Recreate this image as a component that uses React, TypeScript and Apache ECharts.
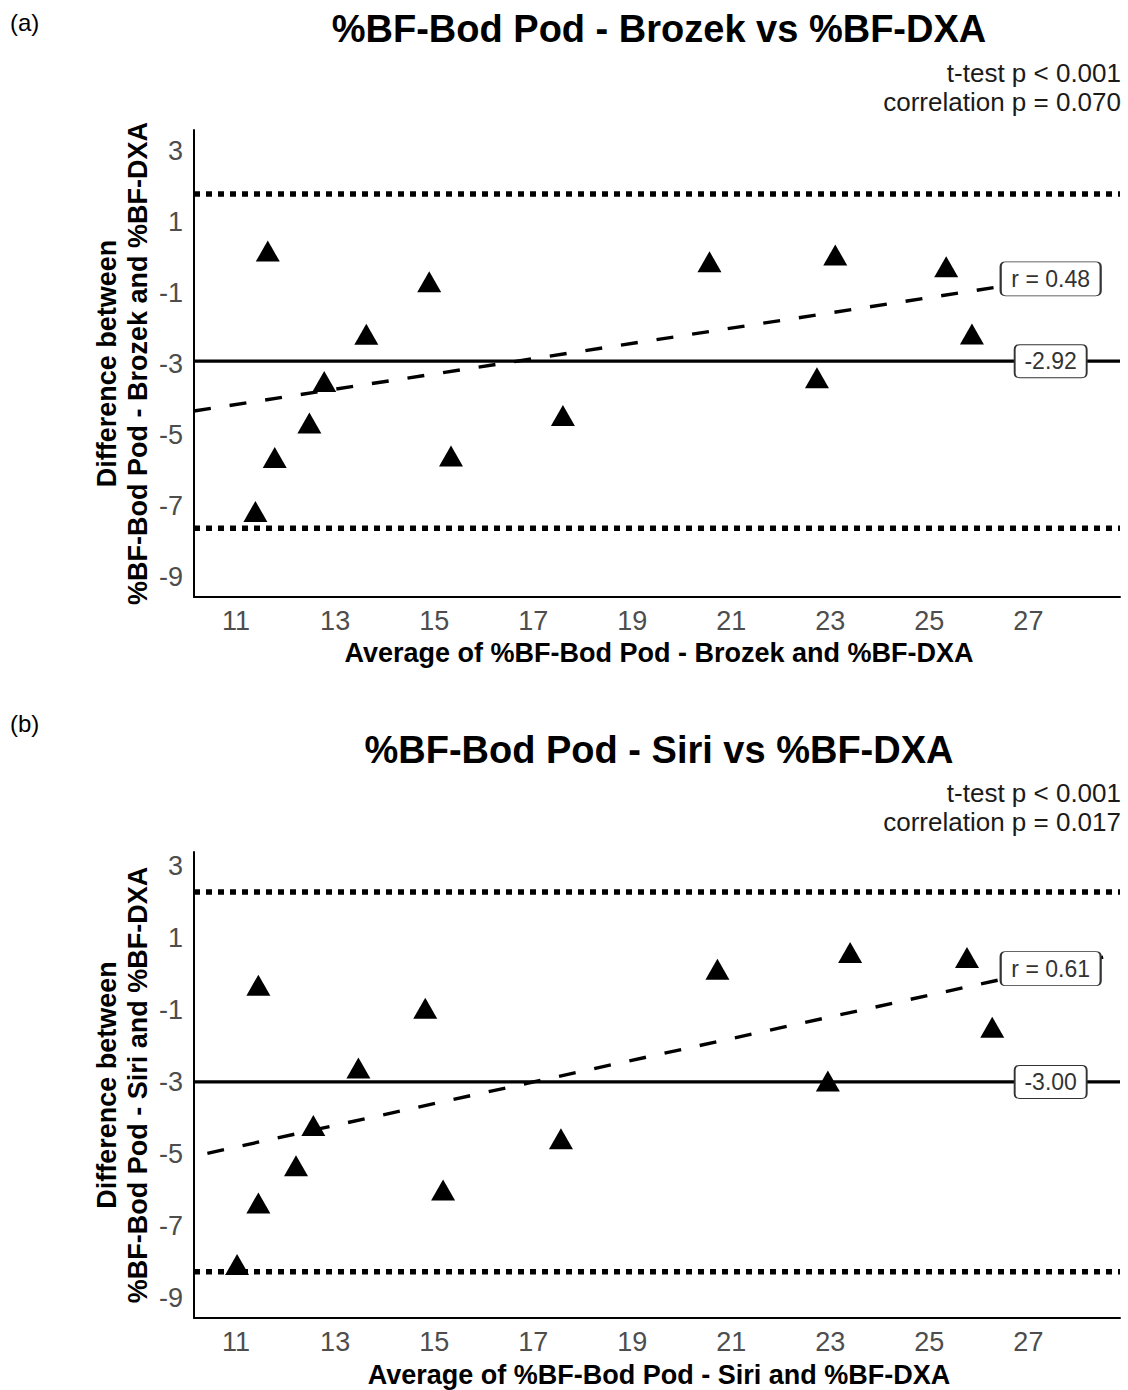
import React, { useEffect, useRef } from "react";
import * as echarts from "echarts";

// ---------- shared axis ticks ----------
const xTicks = [11, 13, 15, 17, 19, 21, 23, 25, 27];
const yTicks = [3, 1, -1, -3, -5, -7, -9];
const xRange = [10.15, 28.85];

// ---------- panel (a): Brozek ----------
const panelTagA = "(a)";
const titleA = "%BF-Bod Pod - Brozek vs %BF-DXA";
const statsA = ["t-test p < 0.001", "correlation p = 0.070"];
const xNameA = "Average of %BF-Bod Pod - Brozek and %BF-DXA";
const yNameA = ["Difference between", "%BF-Bod Pod - Brozek and %BF-DXA"];
const yRangeA = [-9.55, 3.58];
const avgA = [11.39, 11.64, 11.78, 12.48, 12.78, 13.63, 14.9, 15.34, 17.6, 20.56, 22.73, 23.1, 25.34, 25.86];
const diffA = [-7.24, 0.08, -5.72, -4.75, -3.59, -2.26, -0.78, -5.68, -4.54, -0.22, -3.48, -0.03, -0.36, -2.25];
const meanA = -2.92;
const upperA = 1.78;
const lowerA = -7.62;
const regA = [[10.15, -4.32], [28.78, -0.32]];
const rTextA = "r = 0.48";
const meanTextA = "-2.92";

// ---------- panel (b): Siri ----------
const panelTagB = "(b)";
const titleB = "%BF-Bod Pod - Siri vs %BF-DXA";
const statsB = ["t-test p < 0.001", "correlation p = 0.017"];
const xNameB = "Average of %BF-Bod Pod - Siri and %BF-DXA";
const yNameB = ["Difference between", "%BF-Bod Pod - Siri and %BF-DXA"];
const yRangeB = [-9.55, 3.38];
const avgB = [11.02, 11.45, 11.45, 12.21, 12.56, 13.47, 14.82, 15.18, 17.56, 20.72, 22.95, 23.4, 25.76, 26.27];
const diffB = [-8.16, -0.41, -6.45, -5.42, -4.3, -2.71, -1.05, -6.09, -4.67, 0.03, -3.07, 0.5, 0.36, -1.58];
const meanB = -3.0;
const upperB = 2.27;
const lowerB = -8.27;
const regB = [[10.42, -4.98], [28.8, 0.55]];
const rTextB = "r = 0.61";
const meanTextB = "-3.00";

const labelX = 27.45;

const FONT = '"Liberation Sans", Arial, Helvetica, sans-serif';

type Panel = {
  tag: string;
  title: string;
  stats: string[];
  xName: string;
  yName: string[];
  yRange: number[];
  avg: number[];
  diff: number[];
  mean: number;
  upper: number;
  lower: number;
  reg: number[][];
  rText: string;
  meanText: string;
};

const panels: Panel[] = [
  { tag: panelTagA, title: titleA, stats: statsA, xName: xNameA, yName: yNameA, yRange: yRangeA, avg: avgA, diff: diffA, mean: meanA, upper: upperA, lower: lowerA, reg: regA, rText: rTextA, meanText: meanTextA },
  { tag: panelTagB, title: titleB, stats: statsB, xName: xNameB, yName: yNameB, yRange: yRangeB, avg: avgB, diff: diffB, mean: meanB, upper: upperB, lower: lowerB, reg: regB, rText: rTextB, meanText: meanTextB },
];

// layout (pixels)
const layouts = [
  { tagY: 22, titleY: 29, statsY: [73, 102], gridTop: 130, gridH: 467, xNameY: 653 },
  { tagY: 723, titleY: 750, statsY: [793, 822], gridTop: 852, gridH: 466, xNameY: 1375 },
];
const gridLeft = 194;
const gridW = 926;

function lineAt(reg: number[][], x: number) {
  const [[x0, y0], [x1, y1]] = reg;
  return y0 + ((y1 - y0) * (x - x0)) / (x1 - x0);
}

// rounded box outline for the value labels (small corner radius)
function boxPath(w: number, h: number, r: number) {
  return (
    "path://M" + r + ",0 H" + (w - r) + " Q" + w + ",0 " + w + "," + r +
    " V" + (h - r) + " Q" + w + "," + h + " " + (w - r) + "," + h +
    " H" + r + " Q0," + h + " 0," + (h - r) + " V" + r + " Q0,0 " + r + ",0 Z"
  );
}

export default function App() {
  const ref = useRef<HTMLDivElement>(null);

  useEffect(() => {
    if (!ref.current) return;
    const chart = echarts.init(ref.current, undefined, { renderer: "svg" });

    const grid: any[] = [];
    const xAxis: any[] = [];
    const yAxis: any[] = [];
    const series: any[] = [];
    const graphic: any[] = [];

    panels.forEach((p, i) => {
      const L = layouts[i];
      grid.push({ left: gridLeft, top: L.gridTop, width: gridW, height: L.gridH, containLabel: false });
      xAxis.push({
        type: "value",
        gridIndex: i,
        min: xRange[0],
        max: xRange[1],
        splitLine: { show: false },
        axisTick: { show: false },
        axisLine: { show: true, onZero: false, lineStyle: { color: "#000", width: 2 } },
        axisLabel: { customValues: xTicks, fontSize: 27, color: "#4d4d4d", fontFamily: FONT, margin: 10 },
      });
      yAxis.push({
        type: "value",
        gridIndex: i,
        min: p.yRange[0],
        max: p.yRange[1],
        splitLine: { show: false },
        axisTick: { show: false },
        axisLine: { show: true, onZero: false, lineStyle: { color: "#000", width: 2 } },
        axisLabel: { customValues: yTicks, fontSize: 27, color: "#4d4d4d", fontFamily: FONT, margin: 11 },
      });

      const common = { xAxisIndex: i, yAxisIndex: i, symbol: "none", silent: true, clip: true };
      series.push({
        ...common,
        type: "line",
        z: 2,
        data: [[xRange[0], p.upper], [xRange[1], p.upper]],
        lineStyle: { color: "#000", width: 5.5, type: [6, 6], cap: "butt" },
      });
      series.push({
        ...common,
        type: "line",
        z: 2,
        data: [[xRange[0], p.lower], [xRange[1], p.lower]],
        lineStyle: { color: "#000", width: 5.5, type: [6, 6], cap: "butt" },
      });
      series.push({
        ...common,
        type: "line",
        z: 2,
        data: [[xRange[0], p.mean], [xRange[1], p.mean]],
        lineStyle: { color: "#000", width: 3.2, type: "solid" },
      });
      series.push({
        ...common,
        type: "line",
        z: 2,
        data: p.reg,
        lineStyle: { color: "#000", width: 3.4, type: [17, 19], cap: "butt" },
      });
      series.push({
        type: "scatter",
        xAxisIndex: i,
        yAxisIndex: i,
        silent: true,
        z: 3,
        symbol: "triangle",
        symbolSize: [24, 21],
        symbolOffset: [0, -3.4],
        itemStyle: { color: "#000", opacity: 1 },
        data: p.avg.map((a, k) => [a, p.diff[k]]),
      });
      series.push({
        type: "scatter",
        xAxisIndex: i,
        yAxisIndex: i,
        silent: true,
        z: 6,
        symbolKeepAspect: false,
        itemStyle: { color: "#fff", borderColor: "#333", borderWidth: 1.3, opacity: 1 },
        label: {
          show: true,
          position: "inside",
          fontSize: 23,
          fontFamily: FONT,
          color: "#333",
        },
        data: [
          {
            value: [labelX, lineAt(p.reg, labelX)],
            symbol: boxPath(100, 34, 5),
            symbolSize: [100, 34],
            label: { formatter: p.rText },
          },
          {
            value: [labelX, p.mean],
            symbol: boxPath(72, 33, 5),
            symbolSize: [72, 33],
            label: { formatter: p.meanText },
          },
        ],
      });

      graphic.push({
        type: "text",
        x: 10,
        y: L.tagY,
        style: { text: p.tag, fontSize: 24, fontFamily: FONT, fill: "#000", align: "left", verticalAlign: "middle" },
      });
      graphic.push({
        type: "text",
        x: 659,
        y: L.titleY,
        style: { text: p.title, fontSize: 38, fontWeight: "bold", fontFamily: FONT, fill: "#000", align: "center", verticalAlign: "middle" },
      });
      p.stats.forEach((s, k) => {
        graphic.push({
          type: "text",
          x: 1121,
          y: L.statsY[k],
          style: { text: s, fontSize: 26, fontFamily: FONT, fill: "#1a1a1a", align: "right", verticalAlign: "middle" },
        });
      });
      graphic.push({
        type: "text",
        x: 659,
        y: L.xNameY,
        style: { text: p.xName, fontSize: 27, fontWeight: "bold", fontFamily: FONT, fill: "#000", align: "center", verticalAlign: "middle" },
      });
      graphic.push({
        type: "text",
        x: 122,
        y: L.gridTop + L.gridH / 2,
        rotation: Math.PI / 2,
        style: {
          text: p.yName.join("\n"),
          fontSize: 27,
          lineHeight: 31,
          fontWeight: "bold",
          fontFamily: FONT,
          fill: "#000",
          align: "center",
          verticalAlign: "middle",
        },
      });
    });

    chart.setOption({
      animation: false,
      backgroundColor: "#fff",
      grid,
      xAxis,
      yAxis,
      series,
      graphic,
    });

    return () => chart.dispose();
  }, []);

  return (
    <div
      ref={ref}
      style={{ position: "absolute", left: 0, top: 0, width: 1128, height: 1390, background: "#fff" }}
    />
  );
}
